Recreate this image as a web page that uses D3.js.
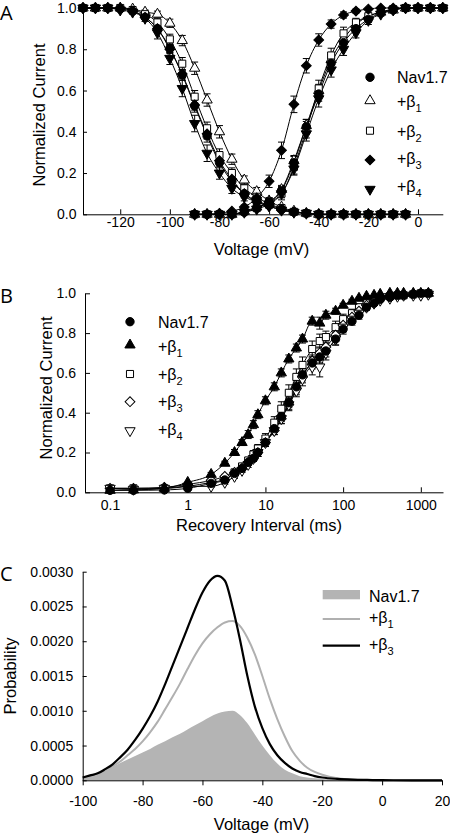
<!DOCTYPE html>
<html><head><meta charset="utf-8">
<script src="https://cdn.jsdelivr.net/npm/d3@7"></script>
<style>
body{margin:0;background:#fff;}
svg text{font-family:"Liberation Sans",Arial,sans-serif;fill:#000;}
svg text.letter{font-family:"Open Sans",sans-serif;}
</style></head><body>
<svg id="c" width="450" height="834"></svg>
<script>
// ---------- Panel A data ----------
const inactV = [-135,-130,-125,-120,-115,-110,-105,-100,-95,-90,-85,-80,-75,-70,-65,-60,-55,-50,-45,-40,-35,-30,-25,-20,-15,-10,-5];
const actV = [-90,-85,-80,-75,-70,-65,-60,-55,-50,-45,-40,-35,-30,-25,-20,-15,-10,-5,0,5,10];

const navInact = [1,1,1,0.995,0.985,0.955,0.90,0.805,0.675,0.525,0.38,0.25,0.16,0.10,0.065,0.045,0.025,0.012,0.005,0,0,0,0,0,0,0,0];
const b1Inact  = [1,1,1,1,0.995,0.98,0.97,0.926,0.842,0.708,0.554,0.40,0.267,0.166,0.11,0.065,0.035,0.015,0.005,0,0,0,0,0,0,0,0];
const b2Inact  = [1,1,1,1,0.99,0.97,0.93,0.848,0.73,0.57,0.417,0.287,0.20,0.126,0.085,0.05,0.03,0.012,0.005,0,0,0,0,0,0,0,0];
const b3Inact  = [1,1,1,1,0.985,0.955,0.90,0.80,0.68,0.53,0.39,0.26,0.17,0.10,0.06,0.04,0.02,0.01,0.005,0,0,0,0,0,0,0,0];
const b4Inact  = [1,1,1,0.99,0.98,0.95,0.88,0.756,0.61,0.44,0.296,0.20,0.126,0.085,0.06,0.04,0.02,0.01,0.005,0,0,0,0,0,0,0,0];

const navInactErr = [0,0,0,0,0.005,0.01,0.015,0.02,0.025,0.03,0.03,0.025,0.02,0.02,0.015,0.01,0.005,0,0,0,0,0,0,0,0,0,0];
const b1InactErr  = [0,0,0,0,0.005,0.01,0.015,0.02,0.025,0.03,0.03,0.03,0.025,0.02,0.02,0.015,0.01,0.005,0,0,0,0,0,0,0,0,0];
const b2InactErr  = [0,0,0,0,0.005,0.01,0.02,0.025,0.03,0.03,0.03,0.03,0.025,0.02,0.02,0.015,0.01,0.005,0,0,0,0,0,0,0,0,0];
const b3InactErr  = [0,0,0,0,0.005,0.01,0.015,0.02,0.02,0.025,0.025,0.02,0.02,0.015,0.01,0.01,0.005,0,0,0,0,0,0,0,0,0,0];
const b4InactErr  = [0,0,0,0,0.01,0.015,0.03,0.03,0.04,0.04,0.04,0.03,0.025,0.02,0.015,0.01,0.005,0,0,0,0,0,0,0,0,0,0];

const navAct = [0,0,0,0,0.01,0.03,0.06,0.115,0.25,0.425,0.583,0.732,0.832,0.90,0.945,0.977,0.99,1,1,1,1];
const b1Act  = [0,0,0,0,0.015,0.035,0.06,0.12,0.26,0.43,0.60,0.75,0.85,0.92,0.96,0.98,0.99,1,1,1,1];
const b2Act  = [0,0,0,0,0.015,0.03,0.06,0.10,0.23,0.41,0.61,0.77,0.877,0.93,0.96,0.98,0.995,1,1,1,1];
const b3Act  = [0,0,0.005,0.015,0.035,0.08,0.16,0.31,0.533,0.72,0.845,0.922,0.966,0.985,0.995,1,1,1,1,1,1];
const b4Act  = [0,0,0,0,0.01,0.025,0.05,0.10,0.22,0.39,0.56,0.70,0.80,0.88,0.94,0.97,0.99,1,1,1,1];

const navActErr = [0,0,0,0,0,0.01,0.015,0.02,0.03,0.035,0.035,0.03,0.025,0.02,0.015,0.01,0,0,0,0,0];
const b1ActErr  = [0,0,0,0,0,0.01,0.015,0.02,0.025,0.03,0.03,0.025,0.02,0.015,0.01,0.005,0,0,0,0,0];
const b2ActErr  = [0,0,0,0,0,0.01,0.02,0.03,0.035,0.04,0.04,0.035,0.03,0.02,0.015,0.01,0,0,0,0,0];
const b3ActErr  = [0,0,0,0,0.01,0.02,0.03,0.04,0.04,0.035,0.03,0.02,0.015,0.01,0,0,0,0,0,0,0];
const b4ActErr  = [0,0,0,0,0,0.01,0.015,0.02,0.03,0.035,0.04,0.035,0.03,0.025,0.02,0.01,0,0,0,0,0];

const xTicksA = [-120,-100,-80,-60,-40,-20,0];
const yTicksA = [0,0.2,0.4,0.6,0.8,1.0];

// ---------- Panel B data ----------
const tB = [0.1,0.2,0.5,1,2,3,4,5,6,7,8,10,13,16,20,25,30,40,50,60,80,100,130,160,200,250,300,400,500,600,800,1000,1250];
const navRec = [0.01,0.01,0.012,0.02,0.045,0.062,0.095,0.12,0.15,0.17,0.20,0.25,0.32,0.38,0.45,0.53,0.59,0.65,0.68,0.71,0.77,0.82,0.86,0.89,0.93,0.95,0.97,0.98,0.99,0.99,0.995,1.0,1.0];
const b1Rec  = [0.01,0.012,0.02,0.05,0.09,0.146,0.20,0.25,0.29,0.34,0.39,0.46,0.53,0.60,0.67,0.725,0.77,0.86,0.85,0.89,0.91,0.94,0.96,0.975,0.985,0.99,0.995,1,1,1,1,1,1];
const b2Rec  = [0.02,0.02,0.02,0.03,0.05,0.065,0.10,0.13,0.16,0.19,0.22,0.27,0.35,0.42,0.50,0.58,0.64,0.72,0.76,0.78,0.83,0.87,0.90,0.93,0.95,0.965,0.975,0.985,0.99,0.99,0.995,1.0,1.0];
const b3Rec  = [0.02,0.02,0.025,0.04,0.06,0.08,0.10,0.12,0.15,0.17,0.20,0.25,0.31,0.37,0.44,0.52,0.58,0.66,0.70,0.73,0.79,0.84,0.88,0.91,0.94,0.96,0.97,0.98,0.99,0.99,0.995,0.995,1.0];
const b4Rec  = [0.02,0.015,0.02,0.03,0.03,0.05,0.08,0.11,0.14,0.17,0.20,0.25,0.31,0.37,0.44,0.51,0.57,0.63,0.63,0.70,0.77,0.83,0.87,0.90,0.93,0.95,0.965,0.975,0.985,0.99,0.99,0.99,0.995];

const navRecErr = [0,0,0,0,0.005,0.01,0.01,0.01,0.015,0.015,0.02,0.02,0.02,0.025,0.025,0.03,0.03,0.03,0.03,0.03,0.03,0.025,0.02,0.02,0.015,0.01,0.01,0.005,0,0,0,0,0];
const b1RecErr  = [0,0,0,0,0.01,0.01,0.015,0.015,0.02,0.02,0.02,0.02,0.02,0.02,0.02,0.02,0.02,0.02,0.03,0.02,0.015,0.01,0.01,0.005,0,0,0,0,0,0,0,0,0];
const b2RecErr  = [0,0,0,0,0.005,0.01,0.01,0.015,0.015,0.02,0.02,0.025,0.03,0.035,0.04,0.04,0.04,0.04,0.035,0.03,0.03,0.025,0.02,0.015,0.01,0.01,0.005,0.005,0,0,0,0,0];
const b3RecErr  = [0,0,0,0,0.005,0.01,0.01,0.01,0.015,0.015,0.02,0.02,0.02,0.025,0.025,0.03,0.03,0.03,0.03,0.025,0.02,0.02,0.015,0.01,0.01,0.005,0.005,0,0,0,0,0,0];
const b4RecErr  = [0,0,0,0,0.005,0.01,0.01,0.01,0.015,0.015,0.02,0.02,0.02,0.025,0.03,0.03,0.035,0.04,0.05,0.035,0.03,0.025,0.02,0.015,0.01,0.01,0.005,0.005,0,0,0,0,0];

const xTicksB = [0.1,1,10,100,1000];
const yTicksB = [0,0.2,0.4,0.6,0.8,1.0];

// ---------- Panel C data ----------
const vC = [-100,-97.5,-95,-92.5,-90,-87.5,-85,-82.5,-80,-77.5,-75,-72.5,-70,-67.5,-65,-62.5,-60,-57.5,-55,-52.5,-50,-47.5,-45,-42.5,-40,-37.5,-35,-32.5,-30,-27.5,-25,-22.5,-20,-15,-10,-5,0,10,20];
const navProb = [0.00003,0.00005,0.00008,0.00013,0.00019,0.00025,0.00030,0.00035,0.00040,0.00045,0.00051,0.00056,0.00062,0.00067,0.00073,0.00079,0.00085,0.00091,0.00096,0.00099,0.00100,0.00094,0.00082,0.00066,0.00050,0.00036,0.00024,0.00015,0.00010,0.00006,0.00004,0.00003,0.00002,0.00001,0.000005,0.000002,0,0,0];
const b1Prob  = [0.00004,0.00006,0.00009,0.00014,0.00020,0.00027,0.00036,0.00045,0.00056,0.00069,0.00084,0.00102,0.00120,0.00139,0.00160,0.00180,0.00197,0.00210,0.00220,0.00227,0.00229,0.00222,0.00205,0.00181,0.00150,0.00117,0.00088,0.00063,0.00042,0.00028,0.00018,0.00012,0.00008,0.00003,0.00001,0.000005,0.000002,0,0];
const b3Prob  = [0.00004,0.00007,0.00010,0.00016,0.00023,0.00033,0.00044,0.00058,0.00074,0.00092,0.00113,0.00138,0.00165,0.00192,0.00219,0.00246,0.00270,0.00287,0.00294,0.00287,0.00250,0.00203,0.00150,0.00106,0.00075,0.00052,0.00036,0.00025,0.00017,0.00012,0.00009,0.00006,0.00004,0.00002,0.00001,0.000005,0.000002,0,0];

const xTicksC = [-100,-80,-60,-40,-20,0,20];
const yTicksC = [0,0.0005,0.0010,0.0015,0.0020,0.0025,0.0030];

// ---------- drawing ----------
const svg = d3.select("#c");
const hyphen = f => (d => f(d).replace("\u2212", "-"));
const sym = {
  circle: d3.symbol().type(d3.symbolCircle).size(55)(),
  tri: d3.symbol().type(d3.symbolTriangle).size(46)(),
  square: d3.symbol().type(d3.symbolSquare).size(50)(),
  diamond: d3.symbol().type(d3.symbolSquare).size(48)()
};
function marker(g, x, y, m) {
  let tr = `translate(${x},${y})`;
  if (m.rot) tr += " rotate(180)";
  if (m.shape === "diamond") tr += " rotate(45)";
  return g.append("path").attr("d", sym[m.shape]).attr("transform", tr)
    .attr("fill", m.fill ? "#000" : "#fff").attr("stroke", "#000").attr("stroke-width", 1);
}
function series(xs, ys, es, xs_, ys_) {
  return xs.map((x, i) => ({x: xs_(x), y: ys_(ys[i]), lo: ys_(Math.max(0, ys[i] - es[i])), hi: ys_(ys[i] + es[i]), e: es[i]}));
}
function drawLine(g, pts) {
  g.append("path").datum(pts)
    .attr("d", d3.line().x(d => d.x).y(d => d.y).curve(d3.curveMonotoneX))
    .attr("fill", "none").attr("stroke", "#000").attr("stroke-width", 1);
}
function drawErr(g, pts) {
  pts.filter(d => d.e > 0).forEach(d => {
    g.append("line").attr("x1", d.x).attr("x2", d.x).attr("y1", d.lo).attr("y2", d.hi).attr("stroke", "#000").attr("stroke-width", 1);
    [d.lo, d.hi].forEach(yy => g.append("line").attr("x1", d.x - 3.5).attr("x2", d.x + 3.5).attr("y1", yy).attr("y2", yy).attr("stroke", "#000").attr("stroke-width", 1));
  });
}
function legendText(g, x, y, main, sub) {
  const t = g.append("text").attr("x", x).attr("y", y).attr("font-size", 16);
  t.append("tspan").text(main);
  if (sub) t.append("tspan").attr("font-size", 11).attr("dy", 5).text(sub);
}
function styleAxis(a) {
  a.attr("font-family", '"Liberation Sans",Arial,sans-serif');
  a.selectAll("path.domain").attr("stroke", "#000").attr("stroke-width", 1);
  a.selectAll(".tick line").attr("stroke", "#000");
  a.selectAll("text").attr("font-size", 14);
}

// ===== Panel A =====
const xA = d3.scaleLinear().domain([-135, 10]).range([83, 442.8]);
const yA = d3.scaleLinear().domain([0, 1]).range([214.3, 8]);
const gA = svg.append("g");
const mNav = {shape: "circle", fill: true};
const mB1 = {shape: "tri", fill: false};
const mB2 = {shape: "square", fill: false};
const mB3 = {shape: "diamond", fill: true};
const mB4 = {shape: "tri", fill: true, rot: true};
const setA = [
  [b1Inact, b1InactErr, b1Act, b1ActErr, mB1],
  [b2Inact, b2InactErr, b2Act, b2ActErr, mB2],
  [b4Inact, b4InactErr, b4Act, b4ActErr, mB4],
  [b3Inact, b3InactErr, b3Act, b3ActErr, mB3],
  [navInact, navInactErr, navAct, navActErr, mNav]
];
const ptsA = setA.map(s => [series(inactV, s[0], s[1], xA, yA), series(actV, s[2], s[3], xA, yA), s[4]]);
ptsA.forEach(p => { drawLine(gA, p[0]); drawLine(gA, p[1]); });
ptsA.forEach(p => { drawErr(gA, p[0]); drawErr(gA, p[1]); });
ptsA.forEach(p => { p[0].concat(p[1]).forEach(d => marker(gA, d.x, d.y, p[2])); });

const axA = gA.append("g").attr("transform", "translate(0,214.3)")
  .call(d3.axisBottom(xA).tickValues(xTicksA).tickFormat(hyphen(d3.format("d"))).tickSizeInner(-5).tickSizeOuter(0).tickPadding(2.5));
const ayA = gA.append("g").attr("transform", "translate(83,0)")
  .call(d3.axisLeft(yA).tickValues(yTicksA).tickFormat(d3.format(".1f")).tickSizeInner(-4).tickSizeOuter(0).tickPadding(6.5));
styleAxis(axA); styleAxis(ayA);
gA.append("text").attr("x", 261.5).attr("y", 255).attr("text-anchor", "middle").attr("font-size", 16.5).text("Voltage (mV)");
gA.append("text").attr("transform", "translate(44.5,115) rotate(-90)").attr("text-anchor", "middle").attr("font-size", 16.5).text("Normalized Current");
gA.append("text").attr("class", "letter").attr("x", 0).attr("y", 20).attr("font-size", 20).text("A");

const legA = [[mNav, "Nav1.7", "", 77.3, 83.3], [mB1, "+β", "1", 100.7, 106.7], [mB2, "+β", "2", 130.7, 136.5], [mB3, "+β", "3", 160, 164], [mB4, "+β", "4", 189.3, 192]];
legA.forEach(l => { marker(gA, 370, l[3], l[0]); legendText(gA, 397, l[4], l[1], l[2]); });

// ===== Panel B =====
const xB = d3.scaleLog().domain([0.0476, 1930]).range([85, 443]);
const yB = d3.scaleLinear().domain([0, 1]).range([492.3, 293.3]);
const gB = svg.append("g");
const nB1 = {shape: "tri", fill: true};
const nB2 = {shape: "square", fill: false};
const nB3 = {shape: "diamond", fill: false};
const nB4 = {shape: "tri", fill: false, rot: true};
const setB = [[b2Rec, b2RecErr, nB2], [b3Rec, b3RecErr, nB3], [b4Rec, b4RecErr, nB4], [navRec, navRecErr, mNav], [b1Rec, b1RecErr, nB1]];
const ptsB = setB.map(s => [series(tB, s[0], s[1], xB, yB), s[2]]);
ptsB.forEach(p => drawLine(gB, p[0]));
ptsB.forEach(p => drawErr(gB, p[0]));
ptsB.forEach(p => p[0].forEach(d => marker(gB, d.x, d.y, p[1])));
const axB = gB.append("g").attr("transform", "translate(0,492.3)")
  .call(d3.axisBottom(xB).tickValues(xTicksB).tickFormat(d => String(d)).tickSizeInner(-5).tickSizeOuter(0).tickPadding(7.5));
const ayB = gB.append("g").attr("transform", "translate(85,0)")
  .call(d3.axisLeft(yB).tickValues(yTicksB).tickFormat(d3.format(".1f")).tickSizeInner(-5).tickSizeOuter(0).tickPadding(9));
styleAxis(axB); styleAxis(ayB);
gB.append("text").attr("x", 259).attr("y", 531).attr("text-anchor", "middle").attr("font-size", 16.5).text("Recovery Interval (ms)");
gB.append("text").attr("transform", "translate(51.5,388) rotate(-90)").attr("text-anchor", "middle").attr("font-size", 16.5).text("Normalized Current");
gB.append("text").attr("class", "letter").attr("x", 0).attr("y", 303).attr("font-size", 20).text("B");
const legB = [[mNav, "Nav1.7", "", 321.7, 328.3], [nB1, "+β", "1", 345, 351.7], [nB2, "+β", "2", 374, 380], [nB3, "+β", "3", 401.7, 406.7], [nB4, "+β", "4", 430.7, 435]];
legB.forEach(l => { marker(gB, 130, l[3], l[0]); legendText(gB, 158, l[4], l[1], l[2]); });

// ===== Panel C =====
const xC = d3.scaleLinear().domain([-100, 20]).range([82.7, 442]);
const yC = d3.scaleLinear().domain([0, 0.003]).range([780.3, 571.7]);
const gC = svg.append("g");
gC.append("path").datum(vC.map((v, i) => [v, navProb[i]]))
  .attr("d", d3.area().x(d => xC(d[0])).y0(yC(0)).y1(d => yC(d[1])).curve(d3.curveMonotoneX))
  .attr("fill", "#b4b4b4");
gC.append("path").datum(vC.map((v, i) => [v, b1Prob[i]]))
  .attr("d", d3.line().x(d => xC(d[0])).y(d => yC(d[1])).curve(d3.curveMonotoneX))
  .attr("fill", "none").attr("stroke", "#b0b0b0").attr("stroke-width", 2);
gC.append("path").datum(vC.map((v, i) => [v, b3Prob[i]]))
  .attr("d", d3.line().x(d => xC(d[0])).y(d => yC(d[1])).curve(d3.curveMonotoneX))
  .attr("fill", "none").attr("stroke", "#000").attr("stroke-width", 2.2);
const axC = gC.append("g").attr("transform", "translate(0,780.3)")
  .call(d3.axisBottom(xC).tickValues(xTicksC).tickFormat(hyphen(d3.format("d"))).tickSizeInner(5).tickSizeOuter(0).tickPadding(11));
const ayC = gC.append("g").attr("transform", "translate(82.7,0)")
  .call(d3.axisLeft(yC).tickValues(yTicksC).tickFormat(d3.format(".4f")).tickSizeInner(-4).tickSizeOuter(0).tickPadding(9.5));
styleAxis(axC); styleAxis(ayC);
gC.append("text").attr("x", 261.5).attr("y", 830).attr("text-anchor", "middle").attr("font-size", 16.5).text("Voltage (mV)");
gC.append("text").attr("transform", "translate(15.5,676) rotate(-90)").attr("text-anchor", "middle").attr("font-size", 16.5).text("Probability");
gC.append("text").attr("class", "letter").attr("x", 0).attr("y", 581).attr("font-size", 20).text("C");
gC.append("rect").attr("x", 322.7).attr("y", 590).attr("width", 37.3).attr("height", 9.3).attr("fill", "#b4b4b4");
gC.append("line").attr("x1", 322.7).attr("x2", 360).attr("y1", 619).attr("y2", 619).attr("stroke", "#b0b0b0").attr("stroke-width", 2);
gC.append("line").attr("x1", 322.7).attr("x2", 360).attr("y1", 645.7).attr("y2", 645.7).attr("stroke", "#000").attr("stroke-width", 2.2);
legendText(gC, 369, 601.7, "Nav1.7", "");
legendText(gC, 369, 623.4, "+β", "1");
legendText(gC, 369, 650, "+β", "3");
</script>
</body></html>
